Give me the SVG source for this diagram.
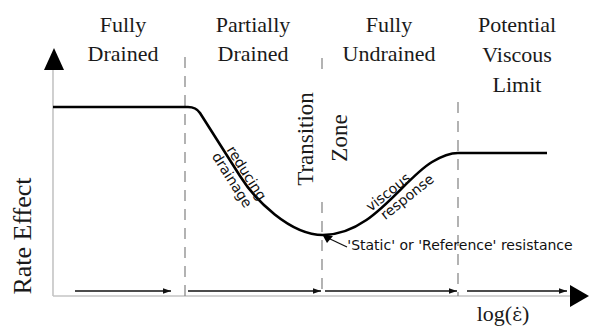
<svg xmlns="http://www.w3.org/2000/svg" width="589" height="329" viewBox="0 0 589 329">
<defs>
<style>
.title{font-family:"Liberation Serif","Times New Roman",serif;font-size:22px;fill:#1a1a1a;text-anchor:middle}
.note{font-family:"DejaVu Sans",Verdana,sans-serif;font-size:14px;fill:#111;text-anchor:middle}
.axis{stroke:#c4c4c4;stroke-width:1.6;fill:none}
.dash{stroke:#8a8a8a;stroke-width:1.3;stroke-dasharray:11 8;fill:none}
.arr{stroke:#111;stroke-width:1.6;fill:none;marker-end:url(#ah)}
</style>
<marker id="ah" viewBox="0 0 10 10" refX="10" refY="5" markerWidth="5" markerHeight="5" orient="auto" markerUnits="strokeWidth">
<path d="M0,1.5 L10,5 L0,8.5 Z" fill="#111"/>
</marker>
</defs>
<rect width="589" height="329" fill="#fff"/>
<g id="axes">
<line class="axis" x1="53" y1="66" x2="53" y2="296"/>
<line class="axis" x1="53" y1="296" x2="572" y2="296"/>
<path d="M54,48 L44,70 L64,70 Z" fill="#000"/>
<path d="M589,296 L570,285 L570,307 Z" fill="#000"/>
<text class="title" transform="translate(31,236) rotate(-90)" style="font-size:26px">Rate Effect</text>
<text class="title" x="503" y="321">log(<tspan style="font-family:'DejaVu Serif',serif;font-size:19px">ε̇</tspan>)</text>
</g>
<g id="dividers">
<line class="dash" x1="185" y1="57" x2="185" y2="296"/>
<line class="dash" x1="322" y1="58" x2="322" y2="70"/>
<line class="dash" x1="322" y1="202" x2="322" y2="296"/>
<line class="dash" x1="458" y1="102" x2="458" y2="296"/>
</g>
<g id="region-fully-drained">
<text class="title" x="123" y="32">Fully</text>
<text class="title" x="123" y="61">Drained</text>
</g>
<g id="region-partially-drained">
<text class="title" x="253" y="32">Partially</text>
<text class="title" x="253" y="61">Drained</text>
</g>
<g id="region-fully-undrained">
<text class="title" x="389" y="32">Fully</text>
<text class="title" x="389" y="61">Undrained</text>
</g>
<g id="region-viscous-limit">
<text class="title" x="517" y="32">Potential</text>
<text class="title" x="517" y="62">Viscous</text>
<text class="title" x="517" y="92">Limit</text>
</g>
<g id="transition-zone">
<text class="title" transform="translate(313,139) rotate(-90)" style="font-size:23px">Transition</text>
<text class="title" transform="translate(347,138) rotate(-90)" style="font-size:23px">Zone</text>
</g>
<g id="curve">
<path d="M53,107 H188 Q196,107 200,113 L240,176 C255,200 290,235 323,235 C372,235 402,180 432,162 Q447,153 458,153 H547" fill="none" stroke="#000" stroke-width="2.6"/>
<text class="note" transform="translate(240.5,177) rotate(57.6)" y="-2.5">reducing</text>
<text class="note" transform="translate(240.5,177) rotate(57.6)" x="-2" y="13.5">drainage</text>
<text class="note" transform="translate(395,196) rotate(-38.5)" x="-3" y="-2.5">viscous</text>
<text class="note" transform="translate(395,196) rotate(-38.5)" x="9" y="13">response</text>
</g>
<g id="reference-point">
<line x1="347" y1="247" x2="328" y2="238" stroke="#111" stroke-width="1.3"/>
<path d="M322,234 L333,236 L327,243 Z" fill="#000"/>
<text class="note" x="460" y="250">'Static' or 'Reference' resistance</text>
</g>
<g id="connectors">
<line class="arr" x1="75" y1="291" x2="171" y2="291"/>
<line class="arr" x1="188" y1="291" x2="321" y2="291"/>
<line class="arr" x1="325" y1="291" x2="457" y2="291"/>
<line class="arr" x1="467" y1="291" x2="567" y2="291"/>
</g>
</svg>
